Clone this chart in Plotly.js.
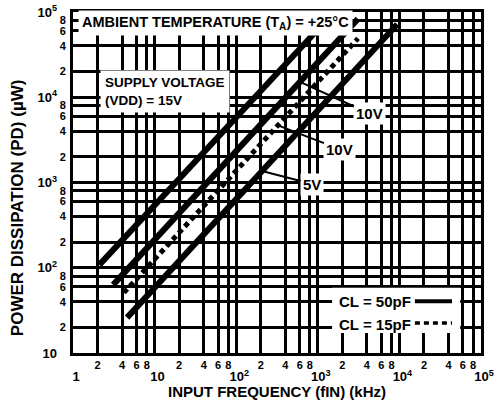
<!DOCTYPE html>
<html>
<head>
<meta charset="utf-8">
<script src="https://cdn.plot.ly/plotly-3.0.1.min.js"></script>
<style>html,body{margin:0;padding:0;background:#fff;}#chart{width:498px;height:404px;}</style>
</head>
<body>
<div id="chart"></div>
<script>
// ---- data (frequency in kHz, power in µW) ----
const freq15V50pF = [2.1, 1125];
const pd15V50pF   = [108, 70300];
const freq10V50pF = [3.1, 3100];
const pd10V50pF   = [63, 83000];
const freq5V50pF  = [4.6, 9400];
const pd5V50pF    = [26, 72000];
const freq10V15pF = [4.2, 3110];
const pd10V15pF   = [51, 49000];

// ---- tick labels ----
const xMajorVals = [1, 10, 100, 1000, 10000, 100000];
const xMajorText = ['1', '10', '10<sup>2</sup>', '10<sup>3</sup>', '10<sup>4</sup>', '10<sup>5</sup>'];
const xMinorVals = [2, 4, 6, 8, 20, 40, 60, 80, 200, 400, 600, 800, 2000, 4000, 6000, 8000, 20000, 40000, 60000, 80000];
const xMinorText = ['2', '4', '6', '8', '2', '4', '6', '8', '2', '4', '6', '8', '2', '4', '6', '8', '2', '4', '6', '8'];
const yMajorVals = [10, 100, 1000, 10000, 100000];
const yMajorText = ['10', '10<sup>2</sup>', '10<sup>3</sup>', '10<sup>4</sup>', '10<sup>5</sup>'];
const yMinorVals = [20, 40, 60, 80, 200, 400, 600, 800, 2000, 4000, 6000, 8000, 20000, 40000, 60000, 80000];
const yMinorText = ['2', '4', '6', '8', '2', '4', '6', '8', '2', '4', '6', '8', '2', '4', '6', '8'];

// ---- labels ----
const legendLabels = ['CL = 50pF', 'CL = 15pF'];
const voltLabels = ['10V', '10V', '5V'];

const FONT = 'Liberation Sans, Arial, sans-serif';
const bold = (size) => ({family: FONT, size: size, color: '#000', weight: 'bold'});

const solid = {color: '#000', width: 6};
const dashed = {color: '#000', width: 5, dash: '5px,4px'};

const traces = [
  {x: freq15V50pF, y: pd15V50pF, mode: 'lines', line: solid, name: '15V 50pF', showlegend: false, hoverinfo: 'skip'},
  {x: freq10V50pF, y: pd10V50pF, mode: 'lines', line: solid, name: '10V 50pF', showlegend: false, hoverinfo: 'skip'},
  {x: freq5V50pF,  y: pd5V50pF,  mode: 'lines', line: solid, name: '5V 50pF',  showlegend: false, hoverinfo: 'skip'},
  {x: freq10V15pF, y: pd10V15pF, mode: 'lines', line: dashed, name: '10V 15pF', showlegend: false, hoverinfo: 'skip'},
  // empty trace so the overlaid label axes (decade labels) get drawn
  {x: [], y: [], xaxis: 'x2', yaxis: 'y2', mode: 'lines', showlegend: false, hoverinfo: 'skip'}
];

// helper: point on a series at a given frequency (log-log interpolation)
function onLine(fx, fy, f) {
  const lx0 = Math.log10(fx[0]), lx1 = Math.log10(fx[1]);
  const ly0 = Math.log10(fy[0]), ly1 = Math.log10(fy[1]);
  const lf = Math.log10(f);
  return [lf, ly0 + (ly1 - ly0) * (lf - lx0) / (lx1 - lx0)];
}
const tipB = onLine(freq10V50pF, pd10V50pF, 605);
const tipD = onLine(freq10V15pF, pd10V15pF, 325);
const tipC = onLine(freq5V50pF, pd5V50pF, 207);

const GRIDW = 3;

const layout = {
  width: 498, height: 404,
  margin: {l: 73, r: 17, t: 12, b: 51},
  paper_bgcolor: '#fff', plot_bgcolor: '#fff',
  showlegend: false,
  xaxis: {
    type: 'log', range: [0, 5], tickmode: 'array',
    tickvals: xMinorVals, ticktext: xMinorText,
    showgrid: true, gridcolor: '#000', gridwidth: GRIDW,
    showline: true, linecolor: '#000', linewidth: 3, mirror: true,
    ticks: '', zeroline: false,
    tickfont: bold(11), ticklabelstandoff: 0,
    title: {text: 'INPUT FREQUENCY (fIN) (kHz)', font: bold(15), standoff: 17}
  },
  xaxis2: {
    type: 'log', range: [0, 5], overlaying: 'x', anchor: 'y', side: 'bottom',
    showgrid: true, gridcolor: '#000', gridwidth: GRIDW,
    showline: false, zeroline: false, ticks: '',
    tickmode: 'array', tickvals: xMajorVals, ticktext: xMajorText,
    tickfont: bold(13), ticklabelstandoff: 14, ticklabelshift: 3
  },
  yaxis: {
    type: 'log', range: [1, 5], tickmode: 'array',
    tickvals: yMinorVals, ticktext: yMinorText,
    showgrid: true, gridcolor: '#000', gridwidth: GRIDW,
    showline: true, linecolor: '#000', linewidth: 3, mirror: true,
    ticks: '', zeroline: false,
    tickfont: bold(11), ticklabelstandoff: 2
  },
  yaxis2: {
    type: 'log', range: [1, 5], overlaying: 'y', anchor: 'x', side: 'left',
    showgrid: true, gridcolor: '#000', gridwidth: GRIDW,
    showline: false, zeroline: false, ticks: '',
    tickmode: 'array', tickvals: yMajorVals, ticktext: yMajorText,
    tickfont: bold(13), ticklabelstandoff: 15
  },
  shapes: [
    {type: 'rect', xref: 'paper', yref: 'paper', x0: 0.635, x1: 0.949, y0: 0.059, y1: 0.191,
     fillcolor: '#fff', line: {width: 0}, layer: 'above'},
    {type: 'line', xref: 'paper', yref: 'paper', x0: 0.838, x1: 0.929, y0: 0.152, y1: 0.152,
     line: {color: '#000', width: 4}, layer: 'above'},
    {type: 'line', xref: 'paper', yref: 'paper', x0: 0.838, x1: 0.929, y0: 0.088, y1: 0.088,
     line: {color: '#000', width: 3.5, dash: '5px,4px'}, layer: 'above'}
  ],
  annotations: [
    {xref: 'paper', yref: 'paper', x: 0.012, y: 0.968, xanchor: 'left', yanchor: 'middle',
     text: 'AMBIENT TEMPERATURE (T<sub>A</sub>) = +25°C', showarrow: false,
     font: bold(14.5), bgcolor: '#fff', borderpad: 3},
    {xref: 'paper', yref: 'paper', x: 0.066, y: 0.768, xanchor: 'left', yanchor: 'middle', align: 'left',
     text: 'SUPPLY VOLTAGE<br>(VDD) = 15V', showarrow: false,
     font: bold(13.5), bgcolor: '#fff', borderpad: 4},
    {xref: 'x', yref: 'y', x: tipB[0], y: tipB[1], ax: 70, ay: 32, text: voltLabels[0],
     showarrow: true, arrowhead: 0, arrowwidth: 2, arrowcolor: '#000', font: bold(15), bgcolor: '#fff', borderpad: 2},
    {xref: 'x', yref: 'y', x: tipD[0], y: tipD[1], ax: 62, ay: 24, text: voltLabels[1],
     showarrow: true, arrowhead: 0, arrowwidth: 2, arrowcolor: '#000', font: bold(15), bgcolor: '#fff', borderpad: 2},
    {xref: 'x', yref: 'y', x: tipC[0], y: tipC[1], ax: 50, ay: 13, text: voltLabels[2],
     showarrow: true, arrowhead: 0, arrowwidth: 2, arrowcolor: '#000', font: bold(15), bgcolor: '#fff', borderpad: 2},
    {xref: 'paper', yref: 'paper', x: 0.833, y: 0.150, xanchor: 'right', yanchor: 'middle',
     text: legendLabels[0], showarrow: false, font: bold(15)},
    {xref: 'paper', yref: 'paper', x: 0.833, y: 0.085, xanchor: 'right', yanchor: 'middle',
     text: legendLabels[1], showarrow: false, font: bold(15)},
    {xref: 'paper', yref: 'paper', x: -0.137, y: 0.425, xanchor: 'center', yanchor: 'middle',
     text: 'POWER DISSIPATION (PD) (µW)', textangle: -90, showarrow: false, font: bold(17)}
  ]
};

Plotly.newPlot('chart', traces, layout, {staticPlot: true, displayModeBar: false});
</script>
</body>
</html>
